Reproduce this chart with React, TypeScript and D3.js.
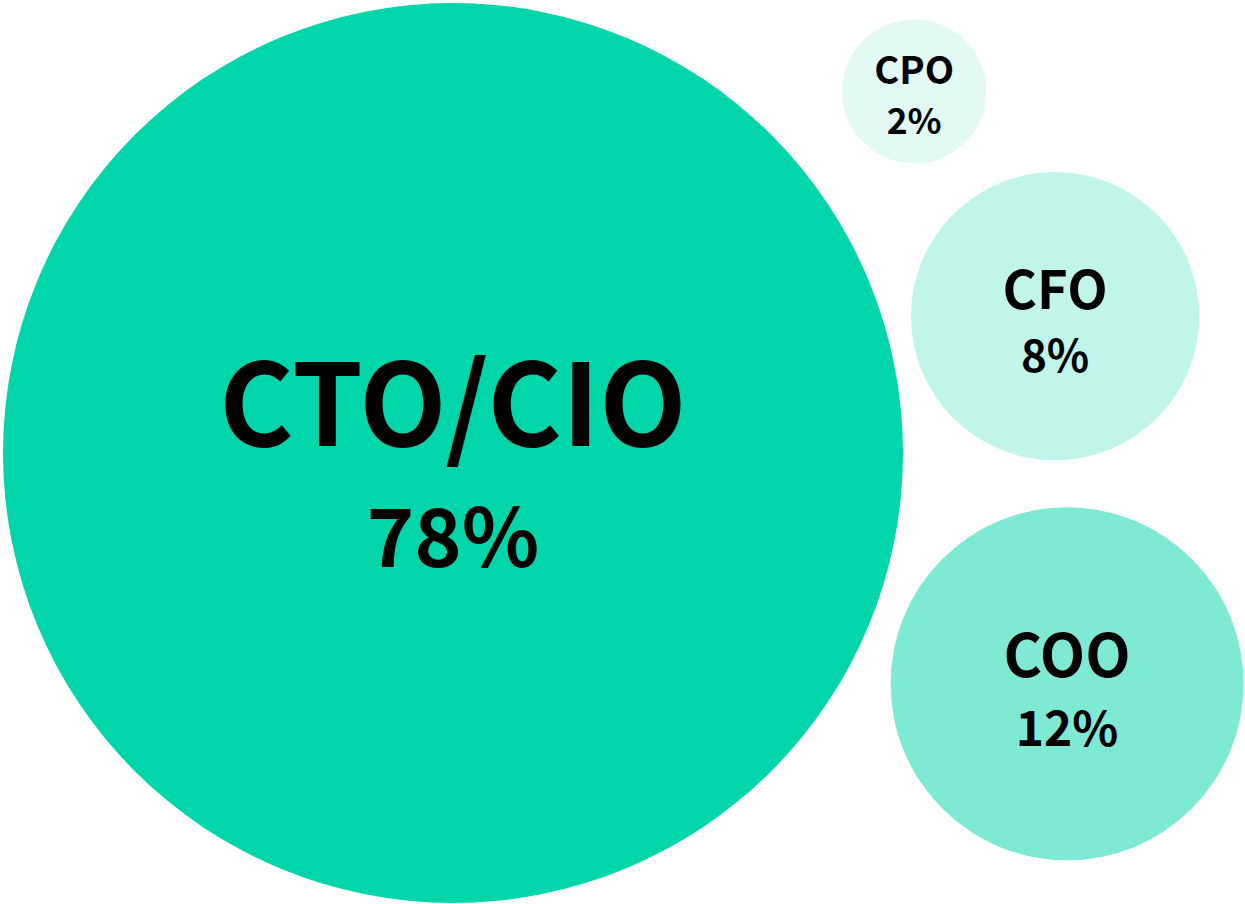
import React from 'react';
import { scaleSqrt, scaleLinear, scaleOrdinal } from 'd3';

const roles = ['CTO/CIO', 'COO', 'CFO', 'CPO'];
const shares = [78, 12, 8, 2];
const palette = ['#00d6aa', '#7eead4', '#c2f5e9', '#e2f9f4'];

// where each small bubble sits around the big one (degrees, gap in px)
const angles = [0, 20.6, -12.8, -38.1];
const gaps = [0, 29.5, 23.3, 64];

const App = () => {
  const width = 1245;
  const height = 904;

  const r = scaleSqrt().domain([0, 78]).range([0, 450]);
  const color = scaleOrdinal<string, string>().domain(roles).range(palette);
  const labelSize = scaleLinear().domain([144, 450]).range([52.5, 113.5]);
  const valueSize = scaleLinear().domain([144, 450]).range([44, 80.5]);
  const lineGap = scaleLinear().domain([144, 450]).range([56, 114]);

  const R = r(shares[0]);
  const cx0 = 3 + R;
  const cy0 = 3 + R;

  const bubbles = roles.map((role, i) => {
    const rad = r(shares[i]);
    const dist = i === 0 ? 0 : R + rad + gaps[i];
    const a = (angles[i] * Math.PI) / 180;
    return {
      role,
      value: shares[i],
      r: rad,
      x: cx0 + dist * Math.cos(a),
      y: cy0 + dist * Math.sin(a),
    };
  });

  return (
    <svg
      width={width}
      height={height}
      style={{ position: 'absolute', left: 0, top: 0 }}
      fontFamily="'Noto Sans CJK SC', 'Noto Sans', sans-serif"
      fontWeight={700}
    >
      {bubbles.map((d) => (
        <g key={d.role} transform={`translate(${d.x},${d.y})`}>
          <circle r={d.r} fill={color(d.role)} />
          <text textAnchor="middle" y={-7} fontSize={labelSize(d.r)} fill="#000">
            {d.role}
          </text>
          <text
            textAnchor="middle"
            y={lineGap(d.r)}
            fontSize={valueSize(d.r)}
            fill="#000"
          >
            {d.value}%
          </text>
        </g>
      ))}
    </svg>
  );
};

export default App;
